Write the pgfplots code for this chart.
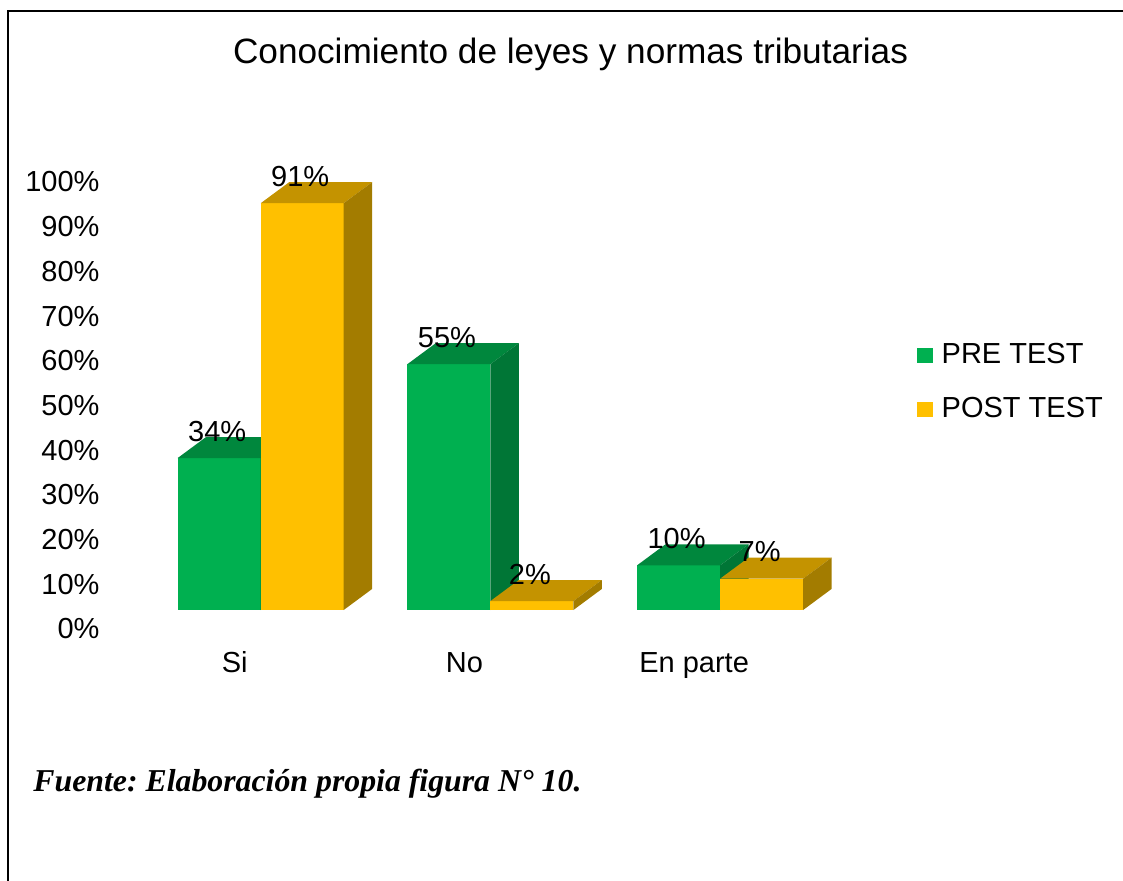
\documentclass[border=0pt]{standalone}
\usepackage{fontspec}
\setmainfont{Liberation Sans}
\newfontfamily\tnr{Liberation Serif}
\usepackage{pgfplots}
\usepackage{pgfplotstable}
\pgfplotsset{compat=1.18}

\definecolor{pregreen}{HTML}{00B050}
\definecolor{pregreentop}{HTML}{00873D}
\definecolor{pregreenside}{HTML}{007636}
\definecolor{postyel}{HTML}{FFC000}
\definecolor{postyeltop}{HTML}{C49300}
\definecolor{postyelside}{HTML}{A37C00}

\pgfplotstableread{
x pre post
0 34 91
1 55 2
2 10 7
}\datatable

% bar width, depth offsets (axis units)
\def\bw{0.3613}
\def\dx{0.1236}
\def\dy{4.7}

% 3D bar: #1 left x, #2 value, #3 front, #4 top, #5 side colour
\newcommand\tdbar[5]{%
  \pgfmathsetmacro\xl{#1}%
  \pgfmathsetmacro\xr{#1+\bw}%
  \pgfmathsetmacro\xlb{#1+\dx}%
  \pgfmathsetmacro\xrb{#1+\bw+\dx}%
  \pgfmathsetmacro\vt{#2}%
  \pgfmathsetmacro\vb{#2+\dy}%
  \edef\tmp{%
    \noexpand\addplot[draw=none,fill=#3,mark=none,forget plot] coordinates {(\xl,0) (\xr,0) (\xr,\vt) (\xl,\vt)} --cycle;
    \noexpand\addplot[draw=none,fill=#4,mark=none,forget plot] coordinates {(\xl,\vt) (\xr,\vt) (\xrb,\vb) (\xlb,\vb)} --cycle;
    \noexpand\addplot[draw=none,fill=#5,mark=none,forget plot] coordinates {(\xr,0) (\xrb,\dy) (\xrb,\vb) (\xr,\vt)} --cycle;
  }\tmp}

\newcommand\lbl{\fontsize{14.5pt}{17pt}\selectfont}

\begin{document}
\frenchspacing
\begin{tikzpicture}
\path[use as bounding box] (0,0) rectangle (561.5pt,-440.5pt);
\begin{scope}[x=0.5pt,y=-0.5pt]
  \draw[line width=1pt] (8,885) -- (8,11) -- (1130,11);
  \node[anchor=base,inner sep=0pt,font=\fontsize{17.6pt}{20pt}\selectfont] at (570.5,64) {Conocimiento de leyes y normas tributarias};
  \node[anchor=base west,inner sep=0pt,font=\tnr\bfseries\itshape\fontsize{15.9pt}{18pt}\selectfont] at (33,791) {Fuente: Elaboración propia figura N° 10.};
\end{scope}
\begin{axis}[
  at={(49.95pt,-305pt)}, anchor=south west,
  scale only axis, width=402pt, height=223.5pt,
  xmin=-0.7, xmax=2.8, ymin=0, ymax=100,
  clip=false,
  axis line style={draw=none}, tick style={draw=none},
  /pgf/number format/assume math mode=true,
  xtick={0,1,2}, xticklabels={Si,No,En parte},
  ytick={0,10,...,100},
  yticklabel={\pgfmathprintnumber{\tick}\%},
  ticklabel style={font=\lbl},
  xticklabel style={anchor=base, inner sep=0pt, xshift=-13pt, yshift=-31.2pt},
  yticklabel style={anchor=east, inner sep=0pt, yshift=-9.5pt},
  legend style={at={(1.0159,0.597)}, anchor=north west, draw=none, fill=none,
    font=\lbl, inner sep=0pt, row sep=15.3pt, column sep=4.4pt,
    nodes={inner sep=0pt}},
  legend cell align=left,
]
\pgfplotsinvokeforeach{0,1,2}{%
  \pgfplotstablegetelem{#1}{pre}\of\datatable \let\vpre\pgfplotsretval
  \pgfplotstablegetelem{#1}{post}\of\datatable \let\vpost\pgfplotsretval
  \tdbar{#1-\bw}{\vpre}{pregreen}{pregreentop}{pregreenside}
  \tdbar{#1}{\vpost}{postyel}{postyeltop}{postyelside}
}
\addplot[draw=none, mark=none, forget plot, point meta=y,
  nodes near coords={\pgfmathprintnumber{\pgfplotspointmeta}\%},
  every node near coord/.append style={font=\lbl, anchor=center, inner sep=0pt, yshift=13.5pt, xshift=-1pt}]
  table[x expr=\thisrow{x}-0.1807, y=pre] {\datatable};
\addplot[draw=none, mark=none, forget plot, point meta=y,
  nodes near coords={\pgfmathprintnumber{\pgfplotspointmeta}\%},
  every node near coord/.append style={font=\lbl, anchor=center, inner sep=0pt, yshift=13.5pt, xshift=-1pt}]
  table[x expr=\thisrow{x}+0.1807, y=post] {\datatable};
\addlegendimage{legend image code/.code={\fill[pregreen] (0pt,-3.5pt) rectangle (7.5pt,3.5pt);}}
\addlegendentry{PRE TEST}
\addlegendimage{legend image code/.code={\fill[postyel] (0pt,-3.5pt) rectangle (7.5pt,3.5pt);}}
\addlegendentry{POST TEST}
\end{axis}
\end{tikzpicture}
\end{document}
